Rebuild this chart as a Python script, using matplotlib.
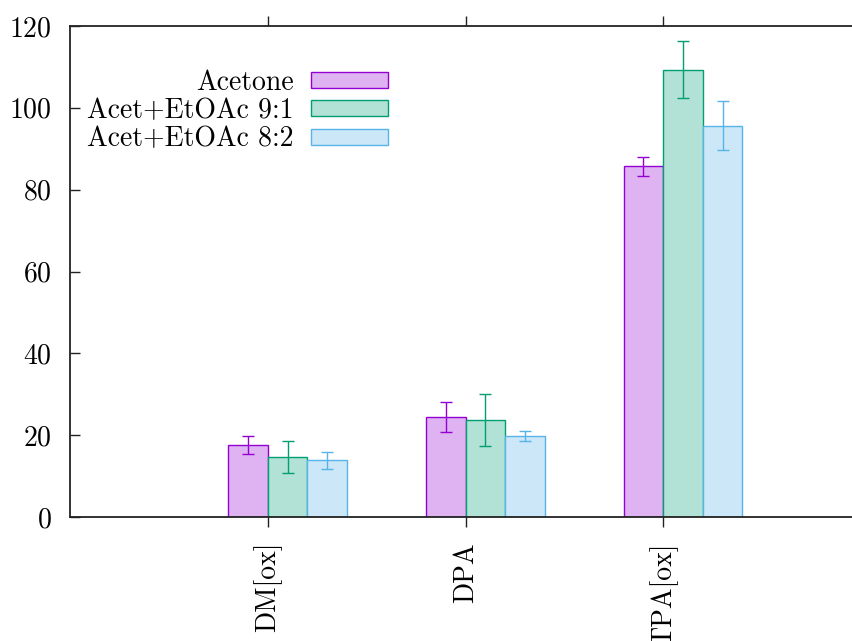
import numpy as np
import matplotlib
matplotlib.use('Agg')
import matplotlib.pyplot as plt

plt.rcParams['font.family'] = ['cmr10', 'DejaVu Serif']
plt.rcParams['axes.formatter.use_mathtext'] = True
plt.rcParams['font.size'] = 20

compounds = ['DM[ox]', 'DPA', 'TPA[ox]']
series = ['Acetone', 'Acet+EtOAc 9:1', 'Acet+EtOAc 8:2']

acetone = [17.5, 24.4, 85.7]
acetone_err = [2.2, 3.7, 2.4]
etoac_91 = [14.6, 23.7, 109.3]
etoac_91_err = [3.9, 6.4, 7.0]
etoac_82 = [13.85, 19.7, 95.6]
etoac_82_err = [2.0, 1.2, 6.0]

edge_colors = ['#9400d3', '#009e73', '#56b4e9']
fill_colors = ['#dfb2f2', '#b2e2d5', '#cce8f8']

fig = plt.figure(figsize=(8.52, 6.41), dpi=100)
# right edge of the axes runs past the figure, so the right border is cut off
ax = fig.add_axes([70 / 852, 124 / 641, 791 / 852, 491 / 641])

x = np.arange(len(compounds))
width = 0.2
offsets = [-0.1, 0.1, 0.3]
values = [acetone, etoac_91, etoac_82]
errors = [acetone_err, etoac_91_err, etoac_82_err]

for i in range(3):
    ax.bar(x + offsets[i], values[i], width, color=fill_colors[i],
           edgecolor=edge_colors[i], linewidth=1.0, label=series[i], zorder=2)
    ax.errorbar(x + offsets[i], values[i], yerr=errors[i], fmt='none',
                ecolor=edge_colors[i], elinewidth=1.0, capsize=4, capthick=1.0,
                zorder=3)

ax.set_xlim(-1, 3)
ax.set_ylim(0, 120)
ax.set_yticks(range(0, 121, 20))
ax.set_xticks(x)
ax.set_xticklabels(compounds, rotation=90)

for s in ax.spines.values():
    s.set_linewidth(1.3)
    s.set_color('#222222')
ax.spines['right'].set_visible(False)

ax.tick_params(axis='y', direction='in', length=7, width=1, pad=13, colors='#222222',
               labelcolor='black')
ax.tick_params(axis='x', direction='out', length=7, width=1, pad=11, top=True,
               colors='#222222', labelcolor='black')

leg = ax.legend(loc='upper left', bbox_to_anchor=(0.0, 0.945), frameon=False,
                markerfirst=False, handlelength=2.8, handleheight=0.5,
                labelspacing=0.07, handletextpad=0.62, borderaxespad=0.2)

fig.savefig('out.png', dpi=100)
